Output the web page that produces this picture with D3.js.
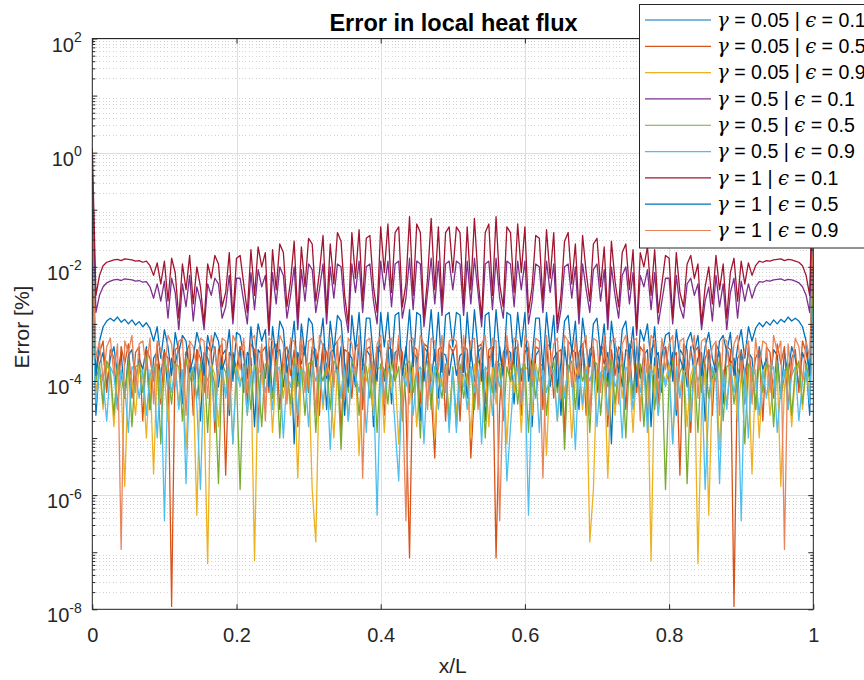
<!DOCTYPE html>
<html>
<head>
<meta charset="utf-8">
<script src="https://cdn.jsdelivr.net/npm/d3@7"></script>
<style>
  html, body { margin: 0; padding: 0; background: #fff; overflow: hidden; }
  svg { display: block; font-family: "Liberation Sans", Arial, Helvetica, sans-serif; }
</style>
</head>
<body>
<svg id="chart" width="864" height="680"></svg>
<script>
// log10 of the local heat flux error [%], sampled at x/L = i/200 (i = 0..200)
const g005_e01 = [-1.9,-4.6,-3.7,-3.5,-4.1,-3.6,-3.4,-3.9,-3.5,-4.3,
  -3.55,-3.45,-4.0,-3.6,-3.8,-3.4,-4.5,-3.6,-3.5,-3.9,
  -3.45,-4.2,-3.6,-3.7,-3.4,-4.4,-3.5,-3.65,-4.0,-3.45,
  -4.7,-3.5,-3.6,-3.9,-3.4,-4.1,-3.55,-3.45,-4.6,-3.5,
  -3.8,-3.4,-4.2,-3.5,-3.6,-4.8,-3.45,-3.55,-3.95,-3.4,
  -4.3,-3.5,-3.45,-4.1,-3.6,-3.35,-5.1,-3.5,-3.7,-3.4,
  -4.2,-3.45,-3.6,-4.0,-3.35,-4.5,-3.5,-3.45,-3.9,-3.4,
  -4.6,-3.5,-3.6,-4.1,-3.35,-4.3,-3.45,-3.55,-4.8,-3.4,
  -3.5,-4.0,-3.35,-4.4,-3.5,-3.45,-3.9,-3.4,-4.2,-3.5,
  -3.6,-4.7,-3.4,-3.5,-4.0,-3.45,-4.3,-3.5,-3.55,-3.9,
  -3.45,
  -3.9,-3.55,-3.5,-4.3,-3.45,-4.0,-3.5,-3.4,-4.7,-3.6,
  -3.5,-4.2,-3.4,-3.9,-3.45,-3.5,-4.4,-3.35,-4.0,-3.5,
  -3.4,-4.8,-3.55,-3.45,-4.3,-3.35,-4.1,-3.6,-3.5,-4.6,
  -3.4,-3.9,-3.45,-3.5,-4.5,-3.35,-4.0,-3.6,-3.45,-4.2,
  -3.4,-3.7,-3.5,-5.1,-3.35,-3.6,-4.1,-3.45,-3.5,-4.3,
  -3.4,-3.95,-3.55,-3.45,-4.8,-3.6,-3.5,-4.2,-3.4,-3.8,
  -3.5,-4.6,-3.45,-3.55,-4.1,-3.4,-3.9,-3.6,-3.5,-4.7,
  -3.45,-4.0,-3.65,-3.5,-4.4,-3.4,-3.7,-3.6,-4.2,-3.45,
  -3.9,-3.5,-3.6,-4.5,-3.4,-3.8,-3.6,-4.0,-3.45,-3.55,
  -4.3,-3.5,-3.9,-3.4,-3.6,-4.1,-3.5,-3.7,-4.6,-1.9];

const g005_e05 = [-2.2,-3.9,-3.5,-3.3,-4.2,-3.45,-3.6,-4.5,-3.4,-3.7,
  -3.35,-4.3,-3.5,-3.4,-4.7,-3.45,-3.6,-4.0,-3.35,-4.4,
  -3.5,-3.6,-7.95,-3.45,-3.4,-4.1,-3.5,-3.35,-4.6,-3.45,
  -3.6,-4.2,-3.4,-3.5,-4.9,-3.45,-3.35,-5.65,-3.5,-3.6,
  -4.0,-3.4,-3.5,-4.4,-3.35,-3.45,-4.7,-3.5,-3.4,-4.2,
  -3.45,-3.35,-4.5,-3.5,-3.4,-3.9,-3.45,-4.8,-3.35,-3.5,
  -4.1,-3.4,-3.45,-4.6,-3.35,-3.5,-4.0,-3.4,-3.3,-4.9,
  -3.45,-3.5,-4.3,-3.4,-3.35,-4.5,-3.45,-3.4,-4.1,-3.5,
  -3.35,-4.6,-3.4,-3.45,-4.0,-3.35,-3.5,-4.4,-7.1,-3.4,
  -3.45,-4.4,-3.35,-3.4,-4.2,-5.35,-3.45,-3.4,-4.7,-3.35,
  -3.5,
  -3.35,-4.7,-3.4,-3.45,-5.35,-4.2,-3.4,-3.35,-4.4,-3.45,
  -3.4,-7.1,-4.4,-3.5,-3.35,-4.0,-3.45,-3.4,-4.6,-3.35,
  -3.5,-4.1,-3.4,-3.45,-4.5,-3.35,-3.4,-4.3,-3.5,-3.45,
  -4.9,-3.3,-3.4,-4.0,-3.5,-3.35,-4.6,-3.45,-3.4,-4.1,
  -3.5,-3.35,-4.8,-3.45,-3.9,-3.4,-3.5,-4.5,-3.35,-3.45,
  -4.2,-3.4,-3.5,-4.7,-3.45,-3.35,-4.4,-3.5,-3.4,-4.0,
  -3.6,-3.5,-5.65,-3.35,-3.45,-4.9,-3.5,-3.4,-4.2,-3.6,
  -3.45,-4.6,-3.35,-3.5,-4.1,-3.4,-3.45,-7.95,-3.6,-3.5,
  -4.4,-3.35,-4.0,-3.6,-3.45,-4.7,-3.4,-3.5,-4.3,-3.35,
  -3.7,-3.4,-4.5,-3.6,-3.45,-4.2,-3.3,-3.5,-3.9,-2.2];

const g005_e09 = [-2.5,-4.2,-3.8,-4.5,-3.7,-3.9,-4.8,-3.75,-4.1,-5.85,
  -3.8,-4.0,-4.6,-3.7,-3.9,-5.0,-3.8,-5.63,-3.75,-4.3,
  -3.9,-4.7,-3.8,-3.7,-4.4,-3.85,-5.2,-3.75,-4.0,-6.35,
  -3.8,-4.5,-7.2,-3.7,-3.9,-4.8,-3.75,-4.2,-3.8,-5.1,
  -3.7,-4.0,-3.85,-4.6,-3.75,-7.15,-3.8,-3.9,-4.4,-3.7,
  -4.9,-3.8,-3.75,-4.3,-3.7,-4.6,-3.85,-5.7,-3.75,-4.1,
  -3.8,-5.9,-6.82,-3.75,-4.5,-3.7,-3.9,-5.0,-3.8,-4.2,
  -3.7,-4.7,-3.85,-3.75,-5.3,-3.8,-4.0,-3.7,-4.6,-3.8,
  -3.75,-4.9,-3.7,-4.2,-3.85,-5.1,-3.75,-3.8,-4.4,-3.7,
  -4.8,-3.8,-3.75,-4.3,-3.7,-5.0,-3.85,-4.1,-3.75,-4.6,
  -3.8,
  -4.6,-3.75,-4.1,-3.85,-5.0,-3.7,-4.3,-3.75,-3.8,-4.8,
  -3.7,-4.4,-3.8,-3.75,-5.1,-3.85,-4.2,-3.7,-4.9,-3.75,
  -3.8,-4.6,-3.7,-4.0,-3.8,-5.3,-3.75,-3.85,-4.7,-3.7,
  -4.2,-3.8,-5.0,-3.9,-3.7,-4.5,-3.75,-6.82,-5.9,-3.8,
  -4.1,-3.75,-5.7,-3.85,-4.6,-3.7,-4.3,-3.75,-3.8,-4.9,
  -3.7,-4.4,-3.9,-3.8,-7.15,-3.75,-4.6,-3.85,-4.0,-3.7,
  -5.1,-3.8,-4.2,-3.75,-4.8,-3.9,-3.7,-7.2,-4.5,-3.8,
  -6.35,-4.0,-3.75,-5.2,-3.85,-4.4,-3.7,-3.8,-4.7,-3.9,
  -4.3,-3.75,-5.63,-3.8,-5.0,-3.9,-3.7,-4.6,-4.0,-3.8,
  -5.85,-4.1,-3.75,-4.8,-3.9,-3.7,-4.5,-3.8,-4.2,-2.5];

const g05_e01 = [-0.35,-2.8,-2.5,-2.35,-2.28,-2.25,-2.23,-2.22,-2.24,-2.21,
  -2.22,-2.23,-2.25,-2.24,-2.27,-2.26,-2.35,-2.55,-2.3,-2.6,
  -2.25,-2.9,-2.2,-2.45,-3.1,-2.3,-2.7,-2.15,-2.95,-2.35,
  -2.6,-3.1,-2.3,-2.5,-2.2,-2.3,-2.9,-2.7,-2.15,-3.0,
  -2.2,-2.2,-2.6,-3.0,-2.1,-2.75,-2.05,-2.35,-2.15,-3.2,
  -2.1,-2.65,-2.0,-2.15,-2.9,-2.5,-2.0,-3.1,-2.05,-2.6,
  -1.95,-2.05,-2.8,-2.4,-1.95,-3.0,-2.0,-2.55,-1.95,-2.0,
  -2.75,-3.15,-1.95,-2.45,-1.9,-2.8,-2.0,-1.95,-2.6,-3.0,
  -1.9,-2.4,-1.9,-2.7,-1.95,-1.9,-2.9,-2.55,-1.85,-2.75,
  -1.9,-1.95,-3.05,-2.45,-1.85,-2.65,-1.9,-2.85,-1.95,-1.9,
  -2.4,
  -1.9,-1.95,-2.85,-1.9,-2.65,-1.85,-2.45,-3.05,-1.95,-1.9,
  -2.75,-1.85,-2.55,-2.9,-1.9,-1.95,-2.7,-1.9,-2.4,-1.9,
  -3.0,-2.6,-1.95,-2.0,-2.8,-1.9,-2.45,-1.95,-3.15,-2.75,
  -2.0,-1.95,-2.55,-2.0,-3.0,-1.95,-2.4,-2.8,-2.05,-1.95,
  -2.6,-2.05,-3.1,-2.0,-2.5,-2.9,-2.15,-2.0,-2.65,-2.1,
  -3.2,-2.15,-2.35,-2.05,-2.75,-2.1,-3.0,-2.6,-2.2,-2.2,
  -3.0,-2.15,-2.7,-2.9,-2.3,-2.2,-2.5,-2.3,-3.1,-2.6,
  -2.35,-2.95,-2.15,-2.7,-2.3,-3.1,-2.45,-2.2,-2.9,-2.25,
  -2.6,-2.3,-2.55,-2.35,-2.26,-2.27,-2.24,-2.25,-2.23,-2.22,
  -2.21,-2.24,-2.22,-2.23,-2.25,-2.28,-2.35,-2.5,-2.8,-0.35];

const g05_e05 = [-2.4,-4.0,-3.7,-4.4,-3.65,-3.8,-4.6,-3.7,-3.9,-4.3,
  -3.65,-4.8,-3.75,-3.7,-4.2,-3.6,-4.5,-3.8,-3.7,-5.1,
  -3.65,-3.9,-4.4,-3.7,-3.75,-4.7,-3.6,-4.0,-3.8,-4.3,
  -3.7,-3.65,-4.9,-3.75,-4.1,-5.8,-3.7,-3.85,-4.4,-3.65,
  -4.0,-5.9,-3.7,-3.8,-4.5,-3.65,-3.9,-4.8,-3.7,-3.75,
  -4.3,-3.65,-5.0,-3.7,-3.8,-4.4,-3.6,-4.1,-3.75,-4.6,
  -3.7,-3.65,-4.9,-3.8,-4.0,-3.7,-4.5,-3.65,-3.75,-5.2,
  -3.7,-4.2,-3.65,-3.8,-4.6,-3.7,-3.75,-4.3,-3.65,-4.9,
  -3.7,-3.8,-4.4,-3.65,-4.0,-3.75,-4.7,-3.7,-3.65,-4.2,
  -3.8,-5.0,-3.7,-3.65,-4.5,-3.75,-3.9,-4.3,-3.7,-4.8,
  -3.75,
  -4.8,-3.7,-4.3,-3.9,-3.75,-4.5,-3.65,-3.7,-5.0,-3.8,
  -4.2,-3.65,-3.7,-4.7,-3.75,-4.0,-3.65,-4.4,-3.8,-3.7,
  -4.9,-3.65,-4.3,-3.75,-3.7,-4.6,-3.8,-3.65,-4.2,-3.7,
  -5.2,-3.75,-3.65,-4.5,-3.7,-4.0,-3.8,-4.9,-3.65,-3.7,
  -4.6,-3.75,-4.1,-3.6,-4.4,-3.8,-3.7,-5.0,-3.65,-4.3,
  -3.75,-3.7,-4.8,-3.9,-3.65,-4.5,-3.8,-3.7,-5.9,-4.0,
  -3.65,-4.4,-3.85,-3.7,-5.8,-4.1,-3.75,-4.9,-3.65,-3.7,
  -4.3,-3.8,-4.0,-3.6,-4.7,-3.75,-3.7,-4.4,-3.9,-3.65,
  -5.1,-3.7,-3.8,-4.5,-3.6,-4.2,-3.7,-3.75,-4.8,-3.65,
  -4.3,-3.9,-3.7,-4.6,-3.8,-3.65,-4.4,-3.7,-4.0,-2.4];

const g05_e09 = [-2.7,-4.4,-3.8,-4.0,-4.7,-3.75,-3.9,-4.5,-3.8,-4.1,
  -4.9,-3.75,-3.85,-4.3,-3.8,-4.6,-3.9,-3.75,-5.0,-3.8,
  -6.45,-3.85,-4.2,-3.75,-4.5,-3.8,-5.8,-3.9,-3.75,-4.4,
  -5.9,-3.8,-4.0,-3.75,-4.7,-3.85,-3.8,-4.3,-3.75,-5.1,
  -3.8,-4.1,-3.75,-4.6,-3.9,-3.8,-4.9,-3.75,-4.2,-3.85,
  -4.5,-3.75,-3.8,-5.0,-3.9,-4.1,-3.75,-4.6,-3.8,-3.85,
  -4.8,-3.75,-4.0,-3.8,-4.4,-3.75,-5.2,-3.85,-3.8,-4.3,
  -3.75,-4.7,-3.8,-3.9,-4.2,-3.75,-4.9,-3.8,-4.0,-6.35,
  -3.8,-4.4,-3.75,-3.9,-4.8,-5.75,-3.8,-4.1,-3.75,-4.6,
  -3.85,-3.75,-5.1,-3.8,-4.2,-3.75,-4.5,-3.9,-3.8,-4.9,
  -3.8,
  -4.9,-3.8,-3.9,-4.5,-3.75,-4.2,-3.8,-5.1,-3.75,-3.85,
  -4.6,-3.75,-4.1,-3.8,-5.75,-4.8,-3.9,-3.75,-4.4,-3.8,
  -6.35,-4.0,-3.8,-4.9,-3.75,-4.2,-3.9,-3.8,-4.7,-3.75,
  -4.3,-3.8,-3.85,-5.2,-3.75,-4.4,-3.8,-4.0,-3.75,-4.8,
  -3.85,-3.8,-4.6,-3.75,-4.1,-3.9,-5.0,-3.8,-3.75,-4.5,
  -3.85,-4.2,-3.75,-4.9,-3.8,-3.9,-4.6,-3.75,-4.1,-3.8,
  -5.1,-3.75,-4.3,-3.8,-3.85,-4.7,-3.75,-4.0,-3.8,-5.9,
  -4.4,-3.75,-3.9,-5.8,-3.8,-4.5,-3.75,-4.2,-3.85,-6.45,
  -3.8,-5.0,-3.75,-3.9,-4.6,-3.8,-4.3,-3.85,-3.75,-4.9,
  -4.1,-3.8,-4.5,-3.9,-3.75,-4.7,-4.0,-3.8,-4.4,-2.7];

const g1_e01 = [0.08,-2.5,-2.15,-1.98,-1.92,-1.9,-1.88,-1.87,-1.89,-1.86,
  -1.87,-1.88,-1.9,-1.89,-1.92,-1.9,-1.98,-2.15,-1.93,-2.3,
  -1.9,-2.6,-1.85,-2.1,-2.9,-1.95,-2.4,-1.8,-2.65,-2.0,
  -2.35,-3.0,-1.95,-2.2,-1.8,-1.95,-2.7,-2.45,-1.75,-2.9,
  -1.85,-1.8,-2.3,-2.8,-1.7,-2.5,-1.65,-2.0,-1.75,-3.1,
  -1.7,-2.4,-1.6,-1.75,-2.7,-2.25,-1.55,-2.9,-1.65,-2.35,
  -1.5,-1.6,-2.6,-2.1,-1.45,-2.8,-1.6,-2.3,-1.4,-1.55,
  -2.5,-3.0,-1.4,-2.2,-1.35,-2.6,-1.5,-1.45,-2.35,-2.8,
  -1.3,-2.1,-1.25,-2.45,-1.4,-1.3,-2.7,-2.3,-1.12,-2.5,
  -1.25,-1.4,-2.9,-2.2,-1.15,-2.4,-1.3,-2.65,-1.4,-1.3,
  -2.1,
  -1.3,-1.4,-2.65,-1.3,-2.4,-1.15,-2.2,-2.9,-1.4,-1.25,
  -2.5,-1.12,-2.3,-2.7,-1.3,-1.4,-2.45,-1.25,-2.1,-1.3,
  -2.8,-2.35,-1.45,-1.5,-2.6,-1.35,-2.2,-1.4,-3.0,-2.5,
  -1.55,-1.4,-2.3,-1.6,-2.8,-1.45,-2.1,-2.6,-1.6,-1.5,
  -2.35,-1.65,-2.9,-1.55,-2.25,-2.7,-1.75,-1.6,-2.4,-1.7,
  -3.1,-1.75,-2.0,-1.65,-2.5,-1.7,-2.8,-2.3,-1.8,-1.85,
  -2.9,-1.75,-2.45,-2.7,-1.95,-1.8,-2.2,-1.95,-3.0,-2.35,
  -2.0,-2.65,-1.8,-2.4,-1.95,-2.9,-2.1,-1.85,-2.6,-1.9,
  -2.3,-1.93,-2.15,-1.98,-1.9,-1.92,-1.89,-1.9,-1.88,-1.87,
  -1.86,-1.89,-1.87,-1.88,-1.9,-1.92,-1.98,-2.15,-2.5,0.08];

const g1_e05 = [-1.0,-3.9,-3.3,-3.05,-2.95,-2.9,-2.95,-2.88,-2.97,-2.92,
  -3.0,-2.93,-3.02,-2.96,-3.05,-2.98,-3.08,-3.3,-3.05,-3.6,
  -3.1,-3.4,-3.9,-3.15,-3.5,-3.2,-3.3,-3.85,-3.6,-3.15,
  -3.4,-3.9,-3.2,-3.5,-3.15,-3.3,-3.8,-3.6,-3.1,-4.0,
  -3.15,-3.2,-3.55,-3.95,-3.05,-3.7,-3.0,-3.3,-3.1,-4.1,
  -3.05,-3.6,-2.95,-3.1,-3.85,-3.5,-2.95,-4.0,-3.0,-3.55,
  -2.9,-3.0,-3.75,-3.4,-2.9,-3.95,-2.95,-3.5,-2.85,-2.95,
  -3.7,-4.1,-2.85,-3.45,-2.8,-3.8,-2.9,-2.9,-3.6,-4.0,
  -2.8,-3.4,-2.8,-3.7,-2.85,-2.8,-3.9,-3.5,-2.75,-3.75,
  -2.8,-2.85,-4.0,-3.45,-2.75,-3.65,-2.8,-3.85,-2.85,-2.8,
  -3.4,
  -2.8,-2.85,-3.85,-2.8,-3.65,-2.75,-3.45,-4.0,-2.85,-2.8,
  -3.75,-2.75,-3.5,-3.9,-2.8,-2.85,-3.7,-2.8,-3.4,-2.8,
  -4.0,-3.6,-2.9,-2.9,-3.8,-2.8,-3.45,-2.85,-4.1,-3.7,
  -2.95,-2.85,-3.5,-2.95,-3.95,-2.9,-3.4,-3.75,-3.0,-2.9,
  -3.55,-3.0,-4.0,-2.95,-3.5,-3.85,-3.1,-2.95,-3.6,-3.05,
  -4.1,-3.1,-3.3,-3.0,-3.7,-3.05,-3.95,-3.55,-3.2,-3.15,
  -4.0,-3.1,-3.6,-3.8,-3.3,-3.15,-3.5,-3.2,-3.9,-3.4,
  -3.15,-3.6,-3.85,-3.3,-3.2,-3.5,-3.15,-3.9,-3.4,-3.1,
  -3.6,-3.05,-3.3,-3.08,-2.98,-3.05,-2.96,-3.02,-2.93,-3.0,
  -2.92,-2.97,-2.88,-2.95,-2.9,-2.95,-3.05,-3.3,-3.9,-1.0];

const g1_e09 = [-1.5,-3.6,-3.3,-4.0,-3.4,-3.25,-3.9,-3.35,-6.95,-3.3,
  -3.5,-3.2,-4.2,-3.35,-3.3,-3.8,-3.25,-4.4,-3.3,-3.45,
  -3.9,-3.2,-3.35,-4.1,-3.3,-3.25,-4.6,-3.3,-3.4,-3.8,
  -3.25,-3.3,-4.3,-3.2,-3.5,-3.9,-3.25,-3.3,-4.5,-3.2,
  -3.35,-3.8,-3.25,-4.2,-3.3,-3.2,-3.9,-3.35,-4.7,-3.25,
  -3.3,-4.0,-3.2,-3.35,-4.4,-3.25,-3.3,-3.85,-3.2,-4.2,
  -3.3,-3.25,-4.6,-3.2,-3.4,-3.9,-3.25,-4.1,-3.3,-3.2,
  -4.3,-3.25,-3.35,-3.9,-3.2,-5.7,-3.3,-3.25,-4.0,-3.35,
  -3.2,-4.4,-3.3,-3.25,-3.8,-3.2,-4.1,-6.45,-3.3,-3.25,
  -3.9,-3.2,-3.35,-4.5,-3.25,-3.3,-3.8,-3.2,-4.2,-3.3,
  -3.25,
  -3.3,-4.2,-3.2,-3.8,-3.3,-3.25,-4.5,-3.35,-3.2,-3.9,
  -3.25,-3.3,-6.45,-4.1,-3.2,-3.8,-3.25,-3.3,-4.4,-3.2,
  -3.35,-4.0,-3.25,-3.3,-5.7,-3.2,-3.9,-3.35,-3.25,-4.3,
  -3.2,-3.3,-4.1,-3.25,-3.9,-3.4,-3.2,-4.6,-3.25,-3.3,
  -4.2,-3.2,-3.85,-3.3,-3.25,-4.4,-3.35,-3.2,-4.0,-3.3,
  -3.25,-4.7,-3.35,-3.9,-3.2,-3.3,-4.2,-3.25,-3.8,-3.35,
  -3.2,-4.5,-3.3,-3.25,-3.9,-3.5,-3.2,-4.3,-3.3,-3.25,
  -3.8,-3.4,-3.3,-4.6,-3.25,-3.3,-4.1,-3.35,-3.2,-3.9,
  -3.45,-3.3,-4.4,-3.25,-3.8,-3.3,-3.35,-4.2,-3.2,-3.5,
  -3.3,-6.95,-3.35,-3.9,-3.25,-3.4,-4.0,-3.3,-3.6,-1.5];

// Curve parameters shown in the legend
const gammaLabels = ["0.05", "0.05", "0.05", "0.5", "0.5", "0.5", "1", "1", "1"];
const epsLabels   = ["0.1", "0.5", "0.9", "0.1", "0.5", "0.9", "0.1", "0.5", "0.9"];
const curves = [g005_e01, g005_e05, g005_e09, g05_e01, g05_e05, g05_e09, g1_e01, g1_e05, g1_e09];

// Axis ticks
const xTicks = [0, 0.2, 0.4, 0.6, 0.8, 1];
const yDecades = [-8, -6, -4, -2, 0, 2];

const colors = ["#0072BD", "#D95319", "#EDB120", "#7E2F8E", "#77AC30",
                "#4DBEEE", "#A2142F", "#0072BD", "#E9845A"];

const svg = d3.select("#chart");
const box = { l: 92.3, r: 813.3, t: 38.5, b: 609.3 };
const ink = "#262626";

const x = d3.scaleLinear().domain([0, 1]).range([box.l, box.r]);
const y = d3.scaleLog().domain([1e-8, 1e2]).range([box.b, box.t]);

// Grid: dotted minor lines at 2..9 x 10^k, solid major lines at labelled decades
const minorVals = [];
for (let k = -8; k < 2; k++) for (let m = 2; m <= 9; m++) minorVals.push(m * Math.pow(10, k));
const majorVals = d3.range(-8, 3).map(k => Math.pow(10, k));

const grid = svg.append("g").attr("shape-rendering", "crispEdges");
grid.selectAll(".minor").data(minorVals).join("line")
  .attr("x1", box.l).attr("x2", box.r)
  .attr("y1", d => Math.round(y(d)) + 0.5).attr("y2", d => Math.round(y(d)) + 0.5)
  .attr("stroke", "#d2d2d2").attr("stroke-width", 1).attr("stroke-dasharray", "1 2.4");
grid.selectAll(".majorY").data(yDecades.map(k => Math.pow(10, k))).join("line")
  .attr("x1", box.l).attr("x2", box.r)
  .attr("y1", d => Math.round(y(d)) + 0.5).attr("y2", d => Math.round(y(d)) + 0.5)
  .attr("stroke", "#dedede").attr("stroke-width", 1);
grid.selectAll(".majorX").data(xTicks).join("line")
  .attr("x1", d => Math.round(x(d)) + 0.5).attr("x2", d => Math.round(x(d)) + 0.5)
  .attr("y1", box.t).attr("y2", box.b)
  .attr("stroke", "#dedede").attr("stroke-width", 1);

// Curves
svg.append("clipPath").attr("id", "plotClip")
  .append("rect").attr("x", box.l).attr("y", box.t)
  .attr("width", box.r - box.l).attr("height", box.b - box.t);

const plot = svg.append("g").attr("clip-path", "url(#plotClip)");
curves.forEach((vals, s) => {
  const n = vals.length;
  const line = d3.line()
    .x((d, i) => x(i / (n - 1)))
    .y(d => y(Math.pow(10, d)));
  plot.append("path")
    .attr("d", line(vals))
    .attr("fill", "none")
    .attr("stroke", colors[s])
    .attr("stroke-width", 1.3)
    .attr("stroke-linejoin", "round");
});

// Axes with inward ticks on all four sides
const axes = svg.append("g").attr("color", ink);
const xb = axes.append("g").attr("transform", `translate(0,${box.b})`)
  .call(d3.axisBottom(x).tickValues(xTicks).tickSize(-5).tickPadding(19)
    .tickFormat(d3.format("~g")));
xb.select(".domain").remove();
xb.selectAll("text").attr("font-size", 20).attr("font-family", "Liberation Sans, Arial, sans-serif").attr("fill", ink);

const xt = axes.append("g").attr("transform", `translate(0,${box.t})`)
  .call(d3.axisTop(x).tickValues(xTicks).tickSize(-5).tickFormat(""));
xt.select(".domain").remove();

[["left", box.l, d3.axisLeft], ["right", box.r, d3.axisRight]].forEach(([side, px, ax]) => {
  const gMaj = axes.append("g").attr("transform", `translate(${px},0)`)
    .call(ax(y).tickValues(majorVals).tickSize(-5).tickFormat(""));
  gMaj.select(".domain").remove();
  const gMin = axes.append("g").attr("transform", `translate(${px},0)`)
    .call(ax(y).tickValues(minorVals).tickSize(-3).tickFormat(""));
  gMin.select(".domain").remove();
});

axes.append("rect")
  .attr("x", box.l).attr("y", box.t)
  .attr("width", box.r - box.l).attr("height", box.b - box.t)
  .attr("fill", "none").attr("stroke", ink).attr("stroke-width", 1);

// Decade labels 10^k
const yLab = svg.append("g").attr("fill", ink).attr("font-size", 20).attr("text-anchor", "end");
yDecades.forEach(k => {
  const t = yLab.append("text")
    .attr("x", box.l - 10.5)
    .attr("y", y(Math.pow(10, k)) + 13);
  t.append("tspan").text("10");
  t.append("tspan").attr("font-size", 14).attr("dy", -9.5).text(String(k));
});

// Titles
svg.append("text")
  .attr("x", 453.5).attr("y", 30.5)
  .attr("text-anchor", "middle").attr("font-size", 23.5).attr("font-weight", "bold")
  .attr("fill", "#000").text("Error in local heat flux");
svg.append("text")
  .attr("x", (box.l + box.r) / 2).attr("y", 673)
  .attr("text-anchor", "middle").attr("font-size", 21).attr("fill", ink).text("x/L");
svg.append("text")
  .attr("transform", "translate(29,327) rotate(-90)")
  .attr("text-anchor", "middle").attr("font-size", 21).attr("fill", ink).text("Error [%]");

// Legend
const leg = svg.append("g");
leg.append("rect")
  .attr("x", 639.5).attr("y", 4.5).attr("width", 260).attr("height", 243.5)
  .attr("fill", "#fff").attr("stroke", ink).attr("stroke-width", 1);
const rowY = d3.scaleLinear().domain([0, 8]).range([20, 230.5]);
curves.forEach((vals, s) => {
  const yy = rowY(s);
  leg.append("line")
    .attr("x1", 645).attr("x2", 711).attr("y1", yy).attr("y2", yy)
    .attr("stroke", colors[s]).attr("stroke-width", 1.2);
  const t = leg.append("text").attr("x", 717).attr("y", yy + 6.8)
    .attr("font-size", 19.6).attr("fill", "#000");
  t.append("tspan").attr("font-family", "DejaVu Serif, serif").attr("font-style", "italic").text("γ");
  t.append("tspan").text(` = ${gammaLabels[s]} | `);
  t.append("tspan").attr("font-family", "DejaVu Serif, serif").attr("font-style", "italic").text("ϵ");
  t.append("tspan").text(` = ${epsLabels[s]}`);
});
</script>
</body>
</html>
